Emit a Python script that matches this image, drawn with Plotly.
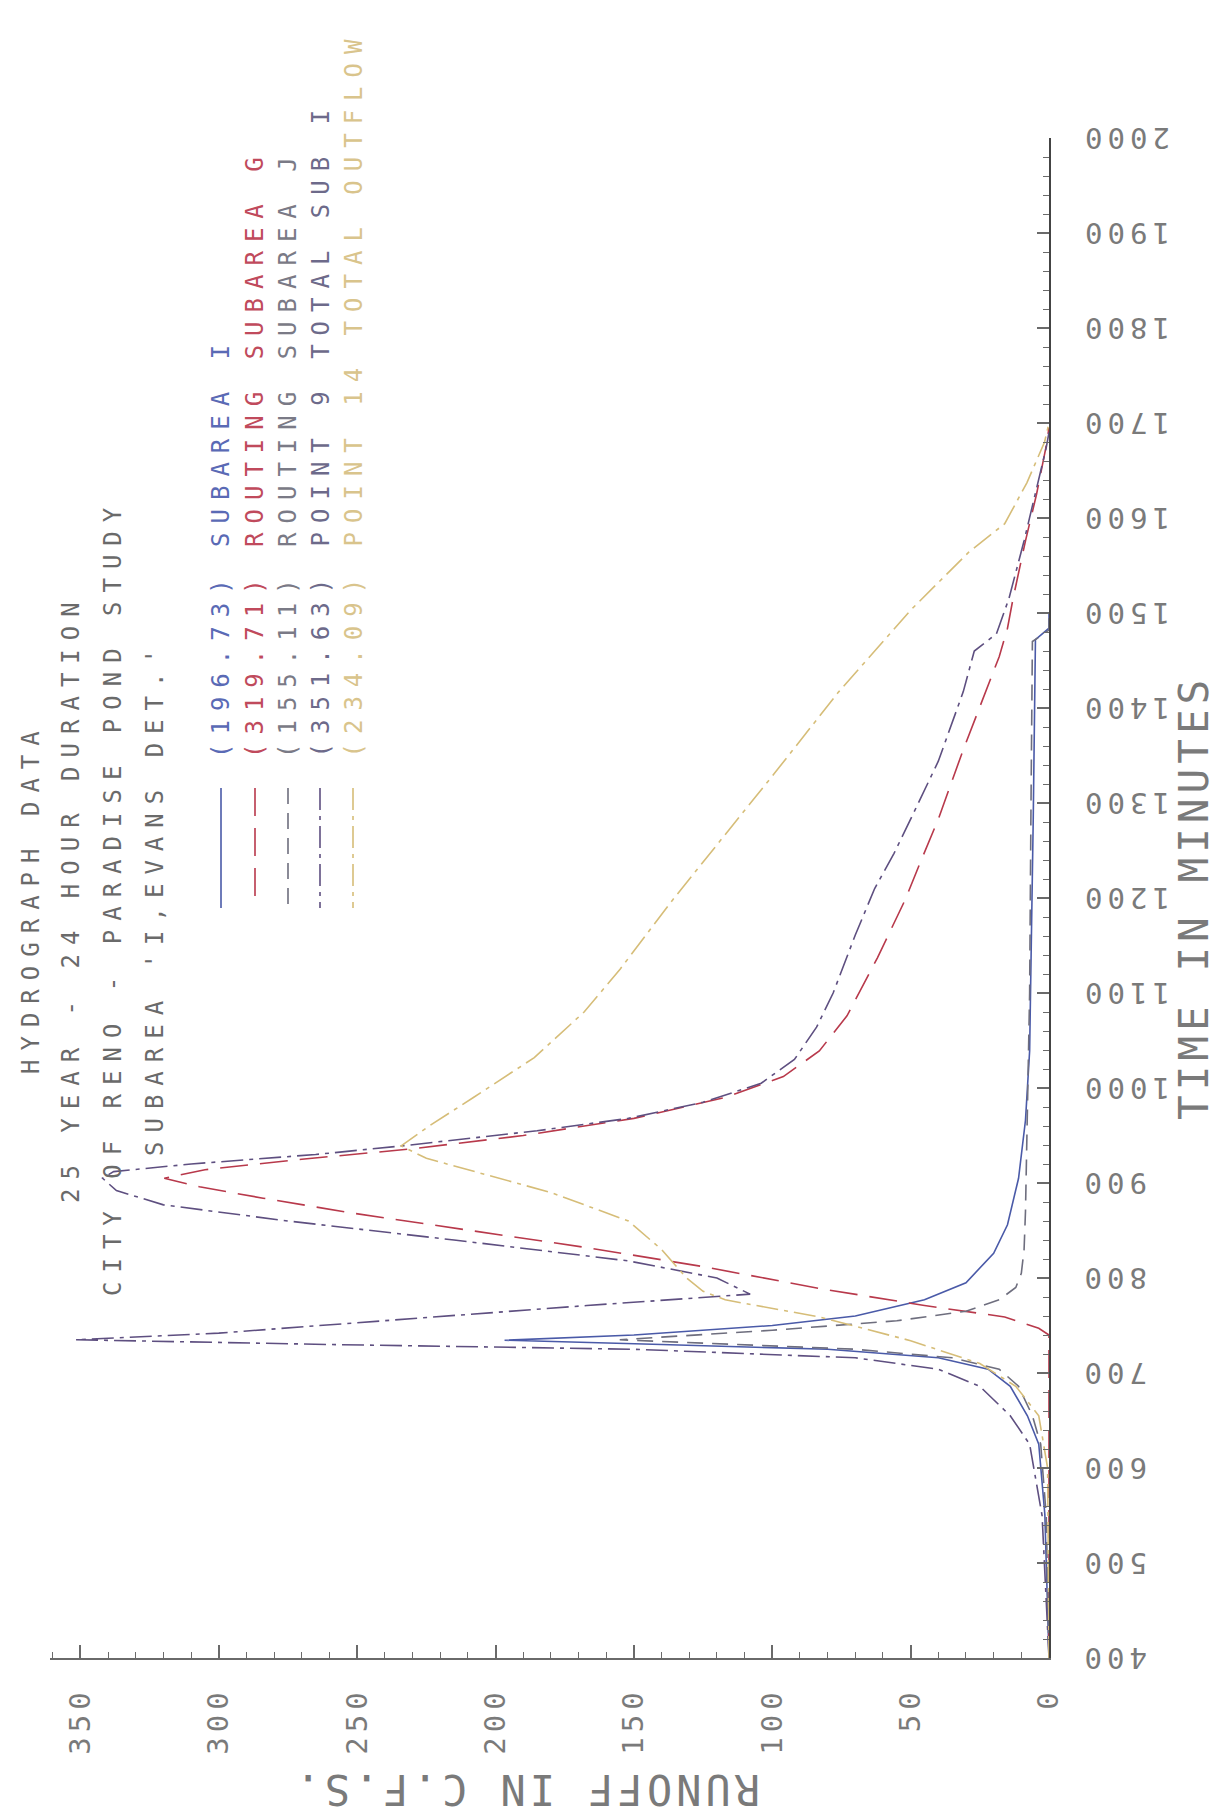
import plotly.graph_objects as go

# ---------------- data (time in minutes, runoff in c.f.s.) ----------------
t_sub_i = [400, 551, 625, 655, 686, 704, 716, 725, 730, 734.5, 740, 750, 760, 777, 795, 826, 856, 905, 966, 1039, 1283, 1472, 1484, 1500]
q_sub_i = [0, 1.5, 3.7, 7.8, 14, 22, 40, 80, 140, 196.73, 150, 100, 70, 45, 30, 20, 15, 11, 8.5, 7, 5.7, 4.9, 0, 0]

t_rout_g = [400, 740, 747, 759, 771, 789, 812, 832, 850, 868, 884, 896, 905, 914, 925, 936, 950, 968, 990, 1012, 1039, 1076, 1137, 1198, 1234, 1283, 1356, 1417, 1454, 1484, 1515, 1576, 1625, 1673, 1695]
q_rout_g = [0, 0, 3.7, 16, 45, 83, 125, 167, 209, 251, 284, 307, 319.71, 305, 270, 230, 190, 150, 117, 96, 83, 73, 62, 52, 47, 40, 31, 23, 18, 15, 13, 8.5, 4.5, 1.2, 0]

t_rout_j = [400, 550, 625, 655, 686, 704, 716, 725, 735, 745, 755, 765, 777, 790, 805, 830, 870, 950, 1100, 1300, 1470, 1482, 1500]
q_rout_j = [0, 1, 3, 6, 11, 18, 35, 70, 155.11, 100, 55, 30, 18, 12, 10, 9, 8.5, 8, 7, 6.5, 6, 0, 0]

t_point9 = [400, 550, 625, 655, 686, 704, 716, 725, 730, 735, 742, 753, 771, 783, 800, 818, 840, 860, 877, 892, 905, 912, 920, 930, 939, 955, 968, 985, 1005, 1030, 1064, 1100, 1161, 1210, 1247, 1283, 1344, 1417, 1460, 1478, 1515, 1576, 1637, 1674, 1690]
q_point9 = [0, 2.5, 7, 14, 25, 40, 70, 150, 260, 351.63, 300, 250, 167, 108, 120, 152, 215, 275, 320, 337, 342, 338, 310, 265, 234, 185, 152, 125, 104, 92, 84, 78, 70, 63, 56, 50, 40, 31, 27, 19, 14.5, 9, 4, 1, 0]

t_point14 = [400, 600, 655, 686, 710, 734, 759, 777, 786, 800, 830, 860, 890, 910, 926, 939, 960, 990, 1032, 1080, 1125, 1198, 1259, 1332, 1417, 1503, 1564, 1594, 1637, 1680, 1700]
q_point14 = [0, 0.5, 3.7, 12, 25, 50, 83, 117, 125, 131, 140, 152, 180, 205, 225, 234.09, 224, 208, 186, 168, 155, 136, 119, 99, 76, 50, 29, 16, 8, 1.6, 0]

series_names = ["SUBAREA I", "ROUTING SUBAREA G", "ROUTING SUBAREA J", "POINT 9 TOTAL SUB I", "POINT 14 TOTAL OUTFLOW"]
series_peaks = ["(196.73)", "(319.71)", "(155.11)", "(351.63)", "(234.09)"]

runoff_ticks = [0, 50, 100, 150, 200, 250, 300, 350]
time_ticks = list(range(400, 2001, 100))

title_lines = ["HYDROGRAPH DATA", "25 YEAR - 24 HOUR DURATION",
               "CITY OF RENO - PARADISE POND STUDY", "SUBAREA 'I,EVANS DET.'"]

# ---------------- styling ----------------
W, H = 1221, 1816
L, R, T, B = 42, 180, 130, 166
MONO = "DejaVu Sans Mono"
colors = ["#4a5aa8", "#b8394b", "#6e6e7e", "#5e4f80", "#d6bd78"]
dashes = ["solid", "28px,12px", "16px,9px", "22px,6px,4px,6px", "22px,6px,4px,6px"]
text_colors = ["#5a6ab5", "#c04a5c", "#7a7a86", "#6d6a8a", "#d9c48c"]


def px(xp):
    return (xp - L) / (W - L - R)


def py(yp):
    return (H - B - yp) / (H - T - B)


def spaced(s, sp):
    return '<span style="letter-spacing:%dpx">%s</span>' % (sp, s)


fig = go.Figure()
all_t = [t_sub_i, t_rout_g, t_rout_j, t_point9, t_point14]
all_q = [q_sub_i, q_rout_g, q_rout_j, q_point9, q_point14]
for i in range(5):
    fig.add_trace(go.Scatter(
        x=all_q[i], y=all_t[i], mode="lines", name=series_names[i],
        line=dict(color=colors[i], width=1.6, dash=dashes[i]),
        showlegend=False, hoverinfo="skip"))

axis_col = "#6a6a6a"
tick_font = dict(family=MONO, size=29, color="#7a7a7a")

fig.update_xaxes(
    range=[361, 0], showgrid=False, zeroline=False,
    showline=True, linecolor=axis_col, linewidth=1.5,
    tickmode="array", tickvals=runoff_ticks,
    ticktext=[spaced(str(v), 5) for v in runoff_ticks],
    ticks="inside", ticklen=13, tickwidth=1.5, tickcolor=axis_col,
    tickangle=-90, tickfont=tick_font, ticklabelstandoff=16,
    minor=dict(tickmode="linear", tick0=0, dtick=10, ticks="inside",
               ticklen=6, tickwidth=1.2, tickcolor=axis_col),
)
fig.update_yaxes(
    range=[400, 2000], side="right", showgrid=False, zeroline=False,
    showline=True, linecolor="#444444", linewidth=1.8,
    tickmode="array", tickvals=time_ticks, showticklabels=False,
    ticks="inside", ticklen=12, tickwidth=1.5, tickcolor=axis_col,
    minor=dict(tickmode="linear", tick0=400, dtick=20, ticks="inside",
               ticklen=6, tickwidth=1.2, tickcolor=axis_col),
)

annotations = []
# time tick labels (upside down, as plotted)
for v in time_ticks:
    annotations.append(dict(
        x=px(1070), y=v, xref="paper", yref="y",
        text=spaced(str(v), 5), textangle=180, showarrow=False,
        font=tick_font, xanchor="left", yanchor="middle"))

# title block (rotated, reading bottom to top)
title_x = [23, 63, 105, 147]
for i, line in enumerate(title_lines):
    annotations.append(dict(
        x=px(title_x[i]), y=py(890), xref="paper", yref="paper",
        text=spaced(line, 9), textangle=-90, showarrow=False,
        font=dict(family=MONO, size=24, color="#6a6a6a"),
        xanchor="center", yanchor="middle"))

# legend block
leg_x = [213, 247, 280, 312, 345]
for i in range(5):
    annotations.append(dict(
        x=px(leg_x[i]), y=py(752), xref="paper", yref="paper",
        text=spaced(series_peaks[i] + " " + series_names[i], 9),
        textangle=-90, showarrow=False,
        font=dict(family=MONO, size=24, color=text_colors[i]),
        xanchor="center", yanchor="bottom"))

# axis titles
annotations.append(dict(
    x=px(1186), y=py(890), xref="paper", yref="paper",
    text=spaced("TIME IN MINUTES", 5), textangle=-90, showarrow=False,
    font=dict(family=MONO, size=41, color="#7a7a7a"),
    xanchor="center", yanchor="middle"))
annotations.append(dict(
    x=px(518), y=py(1782), xref="paper", yref="paper",
    text=spaced("RUNOFF IN C.F.S.", 4), textangle=180, showarrow=False,
    font=dict(family=MONO, size=42, color="#7a7a7a"),
    xanchor="center", yanchor="middle"))

shapes = []
for i in range(5):
    shapes.append(dict(
        type="line", xref="paper", yref="paper",
        x0=px(leg_x[i]), x1=px(leg_x[i]), y0=py(780), y1=py(900),
        line=dict(color=colors[i], width=1.6, dash=dashes[i])))

fig.update_layout(
    width=W, height=H, autosize=False,
    margin=dict(l=L, r=R, t=T, b=B),
    paper_bgcolor="white", plot_bgcolor="white",
    annotations=annotations, shapes=shapes, showlegend=False,
)

fig.write_html("out.html")
